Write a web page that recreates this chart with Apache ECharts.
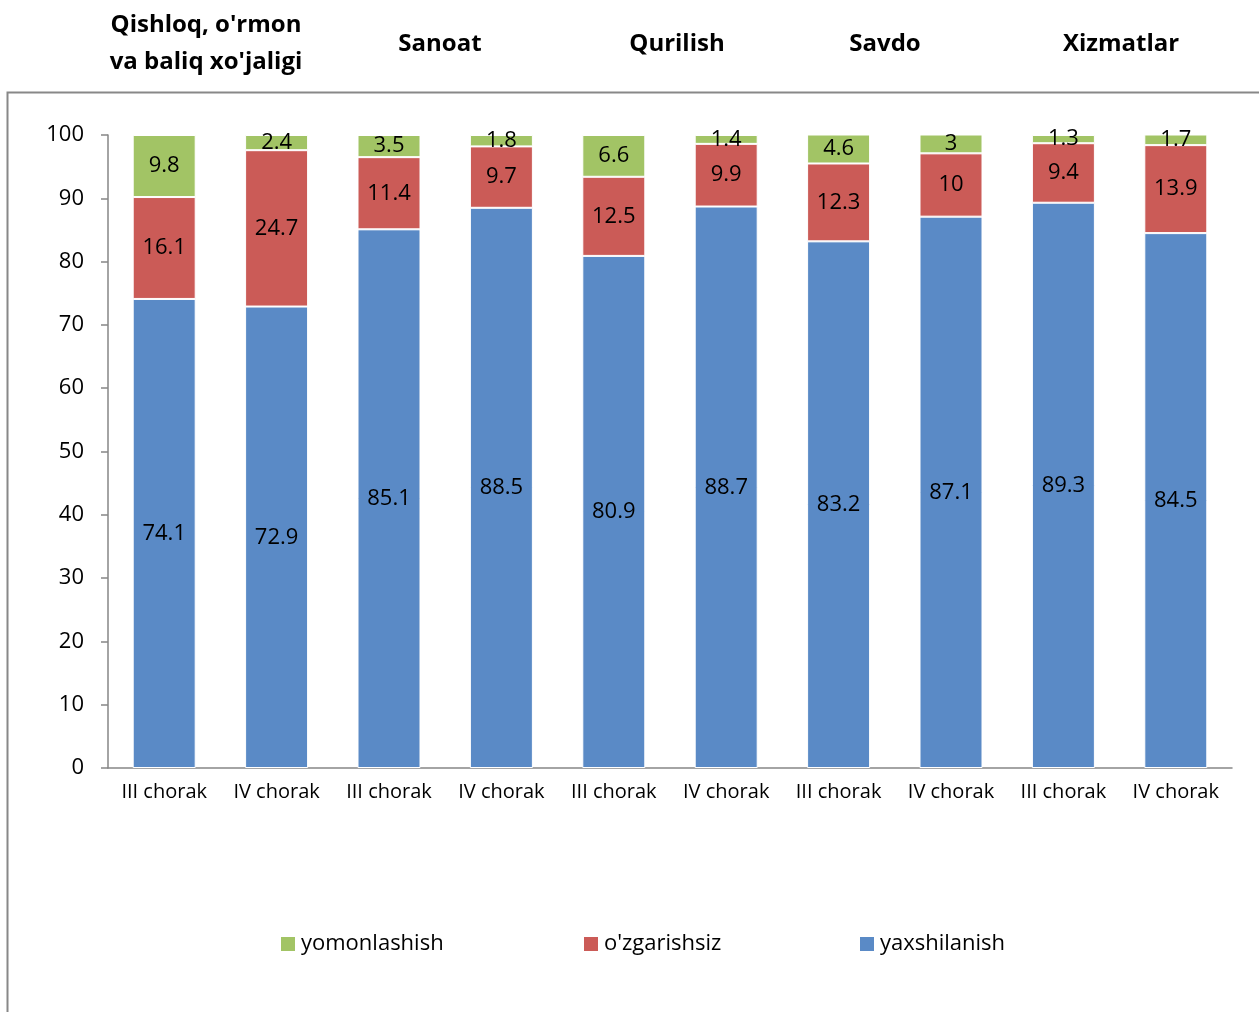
<!DOCTYPE html>
<html>
<head>
<meta charset="utf-8">
<script src="https://cdn.jsdelivr.net/npm/echarts@6/dist/echarts.min.js"></script>
<style>
  html, body { margin: 0; padding: 0; background: #fff; }
  #chart { width: 1259px; height: 1012px; }
</style>
</head>
<body>
<div id="chart"></div>
<script>
// kategoriyalar (choraklar)
var categories = ['III chorak', 'IV chorak', 'III chorak', 'IV chorak', 'III chorak',
  'IV chorak', 'III chorak', 'IV chorak', 'III chorak', 'IV chorak'];
// tarmoqlar sarlavhalari
var sectors = ["Qishloq, o'rmon\nva baliq xo'jaligi", 'Sanoat', 'Qurilish', 'Savdo', 'Xizmatlar'];
var sectorX = [206, 440, 677, 885, 1121];
// qiymatlar
var yaxshilanish = [74.1, 72.9, 85.1, 88.5, 80.9, 88.7, 83.2, 87.1, 89.3, 84.5];
var ozgarishsiz = [16.1, 24.7, 11.4, 9.7, 12.5, 9.9, 12.3, 10, 9.4, 13.9];
var yomonlashish = [9.8, 2.4, 3.5, 1.8, 6.6, 1.4, 4.6, 3, 1.3, 1.7];
var legendNames = ['yomonlashish', "o'zgarishsiz", 'yaxshilanish'];
var legendX = [274, 577, 853];

(function () {
  var myChart = echarts.init(document.getElementById('chart'));
  var font = 'Open Sans';
  var axisColor = '#868686';

  function bar(name, data, color) {
    return {
      name: name,
      type: 'bar',
      stack: 'total',
      barWidth: 63,
      data: data,
      itemStyle: {
        color: color,
        borderColor: '#fff',
        borderWidth: 1
      },
      label: {
        show: true,
        position: 'inside',
        color: '#000',
        fontFamily: font,
        fontSize: 22
      }
    };
  }

  var headers = sectors.map(function (s, i) {
    return {
      type: 'text',
      x: sectorX[i],
      y: 44,
      style: {
        text: s,
        fontFamily: font,
        fontWeight: 'bold',
        fontSize: 24,
        fill: '#000',
        align: 'center',
        verticalAlign: 'middle',
        lineHeight: 37
      }
    };
  });

  // legend har bir element uchun alohida
  var legends = legendNames.map(function (n, i) {
    return {
      top: 928,
      left: legendX[i],
      itemWidth: 16,
      itemHeight: 16,
      itemGap: 6,
      icon: 'rect',
      textStyle: { fontSize: 22, color: '#000', fontFamily: font },
      data: [n]
    };
  });

  var option = {
    animation: false,
    textStyle: { fontFamily: font },
    graphic: [
      {
        type: 'rect',
        shape: { x: 7.5, y: 92.5, width: 1300, height: 1000 },
        style: { fill: 'none', stroke: '#888', lineWidth: 2 },
        z: -1
      }
    ].concat(headers),
    grid: {
      left: 108,
      right: 27,
      top: 135,
      bottom: 244
    },
    legend: legends,
    xAxis: {
      type: 'category',
      data: categories,
      axisLine: { lineStyle: { color: axisColor, width: 1.5 } },
      axisTick: { length: 7, lineStyle: { color: axisColor, width: 1.5 } },
      axisLabel: { color: '#000', fontSize: 20, margin: 14, interval: 0 }
    },
    yAxis: {
      type: 'value',
      min: 0,
      max: 100,
      interval: 10,
      axisLine: { show: true, lineStyle: { color: axisColor, width: 1.5 } },
      axisTick: { show: true, length: 7, lineStyle: { color: axisColor, width: 1.5 } },
      splitLine: { show: false },
      axisLabel: { color: '#000', fontSize: 22, margin: 24 }
    },
    series: [
      bar('yaxshilanish', yaxshilanish, '#5A8AC6'),
      bar("o'zgarishsiz", ozgarishsiz, '#CB5B57'),
      bar('yomonlashish', yomonlashish, '#A2C465')
    ]
  };

  myChart.setOption(option);
  window.addEventListener('resize', function () {
    myChart.resize();
  });
})();
</script>
</body>
</html>
